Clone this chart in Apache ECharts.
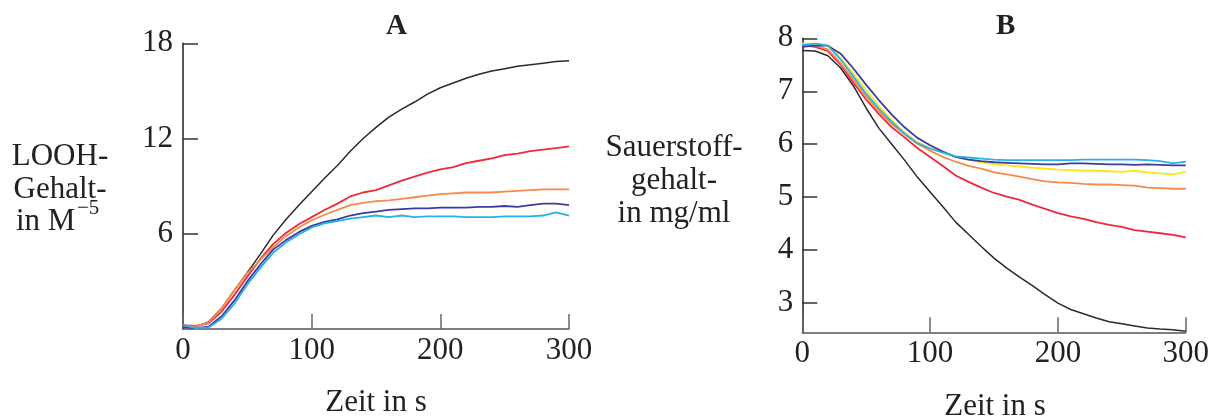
<!DOCTYPE html>
<html>
<head>
<meta charset="utf-8">
<script src="https://cdn.jsdelivr.net/npm/echarts@6/dist/echarts.min.js"></script>
<style>
  html, body { margin: 0; padding: 0; background: #fff; }
  #chart { width: 1212px; height: 416px; }
</style>
</head>
<body>
<div id="chart"></div>
<script>
// time axis (s), shared by both panels
const zeit = [0, 10, 20, 30, 40, 50, 60, 70, 80, 90, 100, 110, 120, 130, 140, 150,
  160, 170, 180, 190, 200, 210, 220, 230, 240, 250, 260, 270, 280, 290, 300]

// panel A: LOOH content
const aSchwarz = [0.15, 0.15, 0.45, 1.3, 2.45, 3.55, 4.7, 5.9, 6.9, 7.8, 8.65, 9.5, 10.3, 11.2, 12.0, 12.7,
  13.35, 13.85, 14.3, 14.8, 15.2, 15.5, 15.8, 16.05, 16.25, 16.4, 16.55, 16.65, 16.75, 16.85, 16.9]
const aRot = [0.25, 0.2, 0.35, 1.1, 2.15, 3.3, 4.4, 5.35, 6.05, 6.6, 7.05, 7.5, 7.9, 8.35, 8.6, 8.75,
  9.05, 9.35, 9.6, 9.85, 10.05, 10.2, 10.45, 10.6, 10.75, 10.95, 11.05, 11.2, 11.3, 11.4, 11.5]
const aOrange = [0.2, 0.15, 0.4, 1.3, 2.45, 3.5, 4.35, 5.15, 5.85, 6.4, 6.85, 7.2, 7.5, 7.8, 7.95, 8.05,
  8.1, 8.2, 8.3, 8.4, 8.5, 8.55, 8.6, 8.6, 8.6, 8.65, 8.7, 8.75, 8.8, 8.8, 8.8]
const aBlau = [0.1, 0.05, 0.15, 0.8, 1.8, 3.0, 4.05, 5.0, 5.6, 6.1, 6.5, 6.75, 6.9, 7.15, 7.3, 7.4,
  7.5, 7.55, 7.6, 7.6, 7.65, 7.65, 7.65, 7.7, 7.7, 7.75, 7.7, 7.8, 7.9, 7.9, 7.8]
const aHellblau = [0.25, 0.05, 0.1, 0.65, 1.6, 2.8, 3.85, 4.8, 5.45, 5.95, 6.4, 6.65, 6.8, 6.95, 7.05, 7.15,
  7.05, 7.15, 7.05, 7.1, 7.1, 7.1, 7.05, 7.05, 7.05, 7.1, 7.1, 7.1, 7.15, 7.35, 7.15]

// panel B: oxygen content
const bSchwarz = [7.77, 7.76, 7.67, 7.44, 7.1, 6.68, 6.3, 6.0, 5.7, 5.38, 5.1, 4.82, 4.53, 4.3, 4.07, 3.85,
  3.66, 3.49, 3.33, 3.16, 3.0, 2.88, 2.8, 2.72, 2.65, 2.61, 2.57, 2.53, 2.51, 2.5, 2.47]
const bRot = [7.87, 7.84, 7.76, 7.5, 7.16, 6.84, 6.57, 6.32, 6.13, 5.93, 5.76, 5.59, 5.41, 5.29, 5.18, 5.08,
  5.01, 4.95, 4.86, 4.78, 4.7, 4.64, 4.59, 4.53, 4.48, 4.44, 4.38, 4.35, 4.32, 4.29, 4.24]
const bOrange = [7.9, 7.86, 7.79, 7.53, 7.22, 6.9, 6.62, 6.38, 6.19, 6.01, 5.88, 5.76, 5.67, 5.59, 5.54, 5.47,
  5.43, 5.39, 5.34, 5.3, 5.28, 5.27, 5.25, 5.24, 5.24, 5.23, 5.22, 5.18, 5.17, 5.16, 5.16]
const bGelb = [7.9, 7.9, 7.87, 7.63, 7.33, 7.02, 6.72, 6.45, 6.22, 6.04, 5.93, 5.84, 5.76, 5.71, 5.66, 5.62,
  5.6, 5.58, 5.56, 5.54, 5.52, 5.51, 5.5, 5.5, 5.49, 5.48, 5.5, 5.47, 5.45, 5.43, 5.48]
const bBlau = [7.84, 7.86, 7.86, 7.71, 7.43, 7.12, 6.83, 6.56, 6.32, 6.12, 5.98, 5.86, 5.76, 5.71, 5.68, 5.66,
  5.65, 5.64, 5.63, 5.62, 5.62, 5.64, 5.64, 5.63, 5.62, 5.62, 5.61, 5.62, 5.61, 5.6, 5.6]
const bHellblau = [7.87, 7.9, 7.86, 7.6, 7.28, 6.95, 6.67, 6.42, 6.2, 6.02, 5.92, 5.84, 5.77, 5.75, 5.73, 5.71,
  5.7, 5.7, 5.7, 5.7, 5.7, 5.7, 5.71, 5.71, 5.71, 5.71, 5.71, 5.7, 5.68, 5.64, 5.67]

const xTicks = [0, 100, 200, 300]
const bTicks = [3, 4, 5, 6, 7, 8]

const FONT = '"Liberation Serif", "DejaVu Serif", serif'

const pairs = (vals) => zeit.map((t, i) => [t, vals[i]])

const linie = (idx, vals, color, width) => ({
  type: 'line',
  xAxisIndex: idx,
  yAxisIndex: idx,
  data: pairs(vals),
  showSymbol: false,
  silent: true,
  lineStyle: { color, width: width || 1.8 },
  z: 3
})

const xAchse = (idx) => ({
  type: 'value',
  gridIndex: idx,
  min: xTicks[0],
  max: xTicks[xTicks.length - 1],
  interval: 100,
  axisLine: { lineStyle: { color: '#555', width: 1.5 } },
  axisTick: { inside: true, length: 15, lineStyle: { color: '#666', width: 1.5 } },
  axisLabel: { fontFamily: FONT, fontSize: 31, color: '#222', margin: 6 },
  splitLine: { show: false }
})

// plain text helper for graphic labels
const txt = (text, x, y, size, align) => ({
  type: 'text', x, y,
  style: { text, align: align || 'center', verticalAlign: 'middle', font: size + 'px ' + FONT, fill: '#222' }
})

const chart = echarts.init(document.getElementById('chart'))

const option = {
  animation: false,
  backgroundColor: '#fff',
  grid: [
    { left: 183, top: 43.3, right: 643, bottom: 87 },
    { left: 802.3, top: 38.3, right: 24, bottom: 83.7 }
  ],
  xAxis: [xAchse(0), xAchse(1)],
  yAxis: [
    {
      type: 'value',
      gridIndex: 0,
      min: 0,
      max: 18,
      interval: 6,
      axisLine: { show: true, lineStyle: { color: '#222', width: 1.5 } },
      axisTick: { inside: true, length: 15, lineStyle: { color: '#333', width: 1.5 } },
      axisLabel: { fontFamily: FONT, fontSize: 31, color: '#222', margin: 10, showMinLabel: false },
      splitLine: { show: false }
    },
    {
      type: 'value',
      gridIndex: 1,
      min: 2.45,
      max: 8,
      axisLine: { show: true, lineStyle: { color: '#222', width: 1.5 } },
      axisTick: { inside: true, length: 15, customValues: bTicks, lineStyle: { color: '#333', width: 1.5 } },
      axisLabel: { fontFamily: FONT, fontSize: 31, color: '#222', margin: 9, customValues: bTicks },
      splitLine: { show: false }
    }
  ],
  graphic: [
    { type: 'text', left: 386, top: 12, style: { text: 'A', font: 'bold 29px ' + FONT, fill: '#222' } },
    { type: 'text', left: 996, top: 12, style: { text: 'B', font: 'bold 29px ' + FONT, fill: '#222' } },
    txt('LOOH-', 60, 157, 31),
    txt('Gehalt-', 60, 190, 31),
    txt('in M', 16, 222, 31, 'left'),
    txt('−5', 77, 208, 21, 'left'),
    txt('Sauerstoff-', 674, 148, 31),
    txt('gehalt-', 674, 181, 31),
    txt('in mg/ml', 674, 214, 31),
    txt('Zeit in s', 376, 403, 31),
    txt('Zeit in s', 995, 407, 31)
  ],
  series: [
    linie(0, aSchwarz, '#2a2a2a', 1.5),
    linie(0, aRot, '#ee2a3a'),
    linie(0, aOrange, '#f58a4a'),
    linie(0, aBlau, '#3c3c9c'),
    linie(0, aHellblau, '#28b0ea'),
    linie(1, bSchwarz, '#2a2a2a', 1.5),
    linie(1, bRot, '#ee2a3a'),
    linie(1, bOrange, '#f58a4a'),
    linie(1, bGelb, '#f8e81a'),
    linie(1, bBlau, '#3c3c9c'),
    linie(1, bHellblau, '#28b0ea')
  ]
}

chart.setOption(option)
</script>
</body>
</html>
